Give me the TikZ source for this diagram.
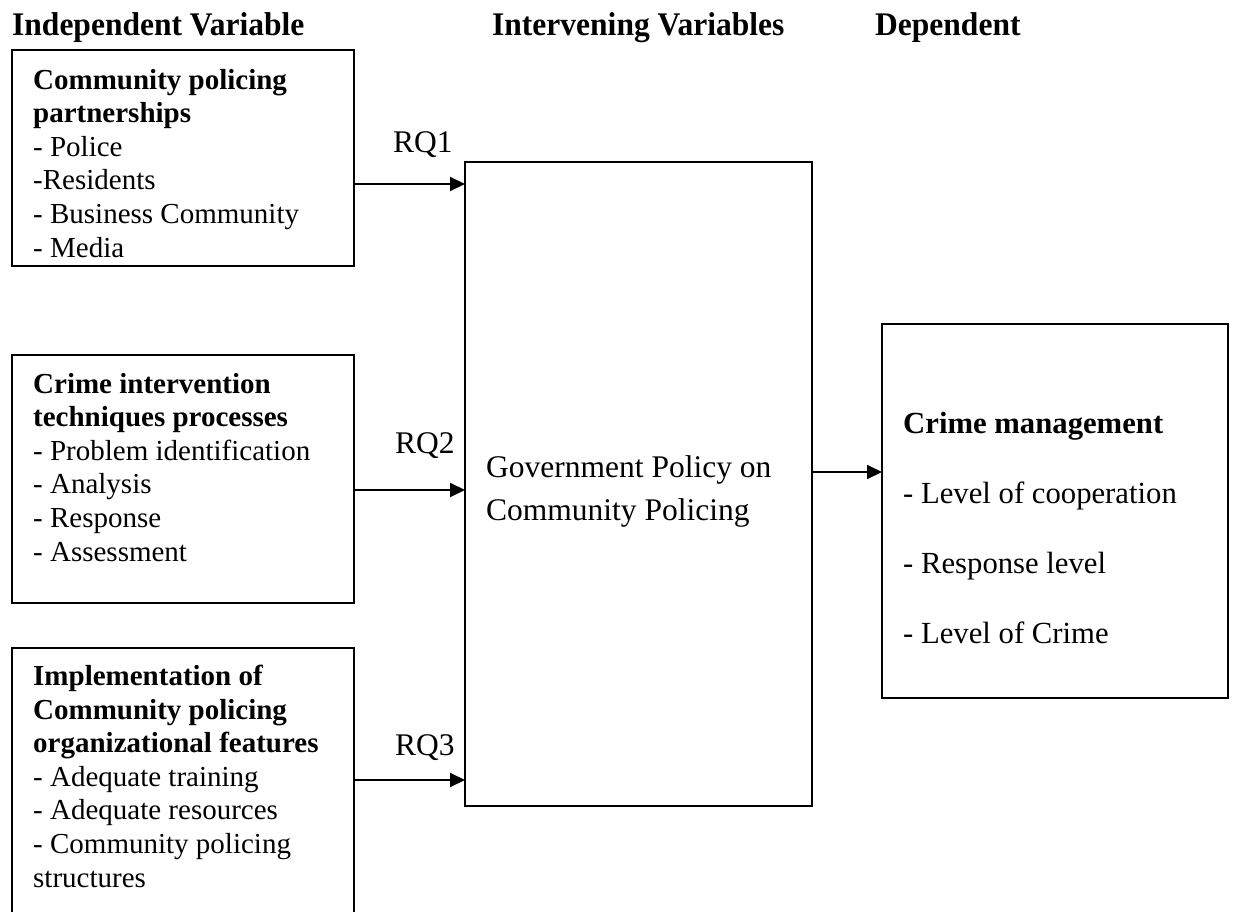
\documentclass[tikz,border=0pt]{standalone}
\usepackage{fontspec}
\setmainfont{Liberation Serif}
\newfontfamily\headfont[FakeStretch=0.955]{Liberation Serif}
\usetikzlibrary{arrows.meta}
\begin{document}
\begin{tikzpicture}[x=1pt,y=-1pt,
  boxline/.style={draw,line width=2pt,inner sep=0pt,outer sep=0pt,anchor=north west},
  arr/.style={line width=2pt,-{Triangle[length=15pt,width=14pt]}},
  head/.style={anchor=base west,inner sep=0pt,font=\headfont\fontsize{33}{38}\selectfont\bfseries},
  body/.style={anchor=base west,inner sep=0pt,align=left,font=\fontsize{29}{33.6}\selectfont},
  rq/.style={anchor=base west,inner sep=0pt,font=\fontsize{31.5}{36}\selectfont}]
\path[use as bounding box,clip] (0,0) rectangle (1234,912);
% headings
\node[head] (h1) at (12,36) {Independent Variable};
\node[head] (h2) at (492,36) {Intervening Variables};
\node[head] (h3) at (875,36) {Dependent};
% boxes
\node[boxline,minimum width=342pt,minimum height=216pt] (b1) at (12,50) {};
\node[boxline,minimum width=342pt,minimum height=248pt] (b2) at (12,355) {};
\node[boxline,minimum width=342pt,minimum height=300pt] (b3) at (12,648) {};
\node[boxline,minimum width=347pt,minimum height=644pt] (mid) at (465,162) {};
\node[boxline,minimum width=346pt,minimum height=374pt] (dep) at (882,324) {};
% texts (anchored at the baseline of their last line)
\node[body] (t1) at (33,257) {\textbf{Community policing}\\\textbf{partnerships}\\- Police\\-Residents\\- Business Community\\- Media};
\node[body] (t2) at (33,561) {\textbf{Crime intervention}\\\textbf{techniques processes}\\- Problem identification\\- Analysis\\- Response\\- Assessment};
\node[body] (t3) at (33,887) {\textbf{Implementation of}\\\textbf{Community policing}\\\textbf{organizational features}\\- Adequate training\\- Adequate resources\\- Community policing\\structures};
\node[anchor=base west,inner sep=0pt,align=left,font=\fontsize{31.5}{43}\selectfont] (tm) at (486,520) {Government Policy on\\Community Policing};
\node[anchor=base west,inner sep=0pt,align=left,font=\fontsize{30.7}{69.7}\selectfont] (td) at (903,643) {\textbf{Crime management}\\- Level of cooperation\\- Response level\\- Level of Crime};
% labels
\node[rq] (rq1) at (393,153) {RQ1};
\node[rq] (rq2) at (395,453) {RQ2};
\node[rq] (rq3) at (395,755) {RQ3};
% connectors
\coordinate (y1) at (0,184);
\coordinate (y2) at (0,490);
\coordinate (y3) at (0,780);
\coordinate (y4) at (0,472);
\draw[arr] (b1.east |- y1) -- (mid.west |- y1);
\draw[arr] (b2.east |- y2) -- (mid.west |- y2);
\draw[arr] (b3.east |- y3) -- (mid.west |- y3);
\draw[arr] (mid.east |- y4) -- (dep.west |- y4);
\end{tikzpicture}
\end{document}
